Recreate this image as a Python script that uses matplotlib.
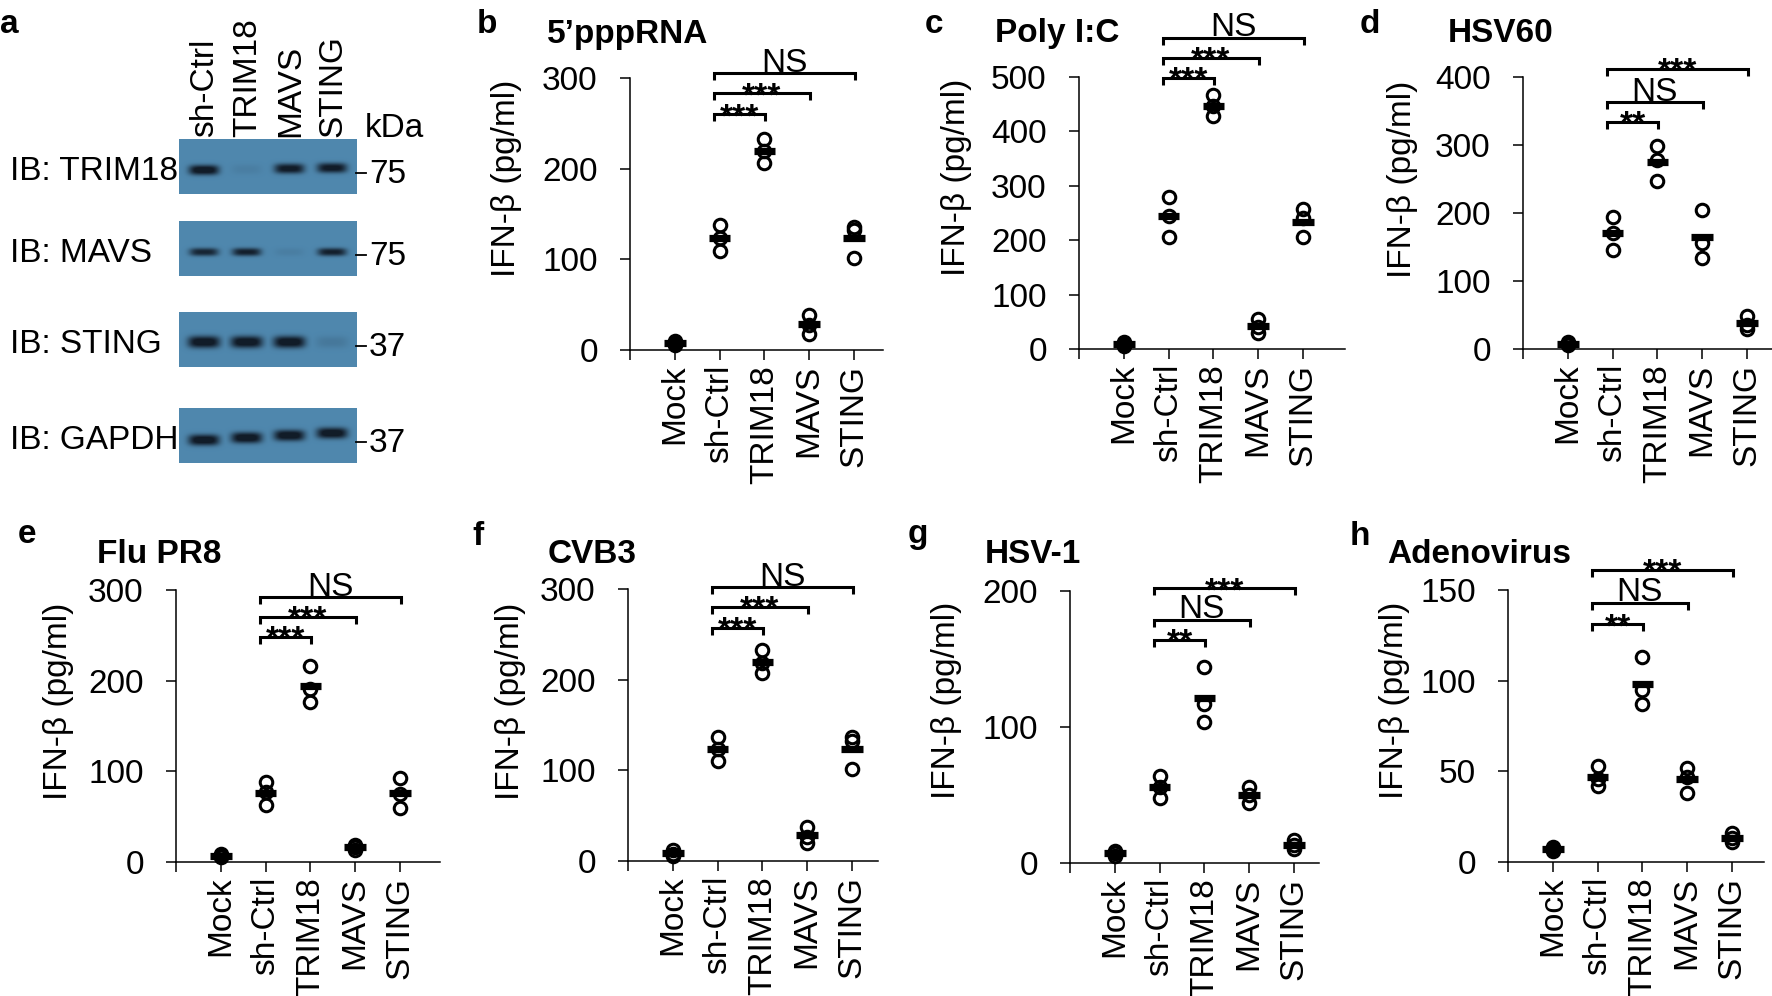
import numpy as np
import matplotlib
matplotlib.use('Agg')
import matplotlib.pyplot as plt

plt.rcParams['font.family'] = ['Liberation Sans', 'DejaVu Sans']

W, H = 1772, 996

# ---------------- data ----------------
categories = ['Mock', 'sh-Ctrl', 'TRIM18', 'MAVS', 'STING']

letters = ['b', 'c', 'd', 'e', 'f', 'g', 'h']
titles = ['5’pppRNA', 'Poly I:C', 'HSV60', 'Flu PR8', 'CVB3', 'HSV-1', 'Adenovirus']

vals_5ppp   = [[6, 8, 10], [109, 123, 138], [206, 219, 233], [18, 28, 39], [101, 132, 136]]
vals_polyic = [[6, 9, 12], [206, 245, 280], [428, 447, 466], [29, 41, 56], [206, 240, 257]]
vals_hsv60  = [[6, 8, 10], [146, 170, 194], [247, 278, 298], [134, 156, 204], [30, 36, 48]]
vals_flu    = [[5, 7, 9], [63, 77, 88], [177, 191, 216], [13, 16, 19], [60, 75, 93]]
vals_cvb3   = [[5, 8, 12], [110, 123, 137], [207, 218, 233], [20, 27, 38], [102, 132, 137]]
vals_hsv1   = [[5, 7, 9], [48, 56, 64], [104, 117, 144], [44, 50, 56], [10, 13, 17]]
vals_adeno  = [[6, 7, 8], [42, 46, 53], [87, 95, 113], [38, 47, 52], [11, 13, 16]]

yticks_5ppp   = [0, 100, 200, 300]
yticks_polyic = [0, 100, 200, 300, 400, 500]
yticks_hsv60  = [0, 100, 200, 300, 400]
yticks_flu    = [0, 100, 200, 300]
yticks_cvb3   = [0, 100, 200, 300]
yticks_hsv1   = [0, 100, 200]
yticks_adeno  = [0, 50, 100, 150]

# significance brackets: sh-Ctrl vs TRIM18, MAVS, STING
sig_5ppp   = ['***', '***', 'NS']
sig_polyic = ['***', '***', 'NS']
sig_hsv60  = ['**', 'NS', '***']
sig_flu    = ['***', '***', 'NS']
sig_cvb3   = ['***', '***', 'NS']
sig_hsv1   = ['**', 'NS', '***']
sig_adeno  = ['**', 'NS', '***']

brk_5ppp   = [260, 283, 305]
brk_polyic = [498, 535, 572]
brk_hsv60  = [334, 363, 412]
brk_flu    = [248, 270, 292]
brk_cvb3   = [257, 280, 302]
brk_hsv1   = [164, 179, 202]
brk_adeno  = [131, 143, 161]

# western blot
blot_lanes = ['sh-Ctrl', 'TRIM18', 'MAVS', 'STING']
blot_rows = ['IB: TRIM18', 'IB: MAVS', 'IB: STING', 'IB: GAPDH']
blot_kda = ['75', '75', '37', '37']
band_intensity = [[1.0, 0.07, 0.92, 0.92],
                  [0.80, 0.85, 0.07, 0.85],
                  [1.0, 1.0, 1.0, 0.12],
                  [1.0, 1.0, 1.0, 1.0]]

panels = [
    (vals_5ppp, yticks_5ppp, sig_5ppp, brk_5ppp),
    (vals_polyic, yticks_polyic, sig_polyic, brk_polyic),
    (vals_hsv60, yticks_hsv60, sig_hsv60, brk_hsv60),
    (vals_flu, yticks_flu, sig_flu, brk_flu),
    (vals_cvb3, yticks_cvb3, sig_cvb3, brk_cvb3),
    (vals_hsv1, yticks_hsv1, sig_hsv1, brk_hsv1),
    (vals_adeno, yticks_adeno, sig_adeno, brk_adeno),
]

# ---------------- layout (pixels) ----------------
boxes = [(630, 78, 883, 350), (1079, 77, 1345, 349), (1523, 77, 1772, 349),
         (176, 590, 440, 862), (628, 589, 878, 861), (1070, 591, 1319, 863),
         (1508, 590, 1764, 862)]
ylabel_pos = [(507, 178), (957, 177), (1402, 179), (59, 701), (510, 701), (947, 700), (1395, 700)]
title_pos = [(547, 43), (995, 42), (1448, 42), (97, 563), (548, 563), (985, 563), (1387, 563)]
letter_pos = [(477, 33), (925, 33), (1360, 33), (18, 543), (472, 545), (908, 543), (1350, 545)]
cat_dx = 44.8
FS = 24

fig = plt.figure(figsize=(W / 100, H / 100), dpi=100)
fig.patch.set_facecolor('white')


def fx(px):
    return px / W


def fy(py):
    return 1 - py / H


# ---------------- panel a: blot ----------------
ax_a = fig.add_axes([0, 0, 1, 1], zorder=0)
ax_a.patch.set_visible(False)
blot_left, blot_right = 179, 357
row_top = [139, 221, 312, 408]
row_h = 55
lane_x0, lane_dx = 204, 42.7
band_dy = [31, 31, 30, 32]
band_tilt = [-0.7, 0.0, 0.0, -2.3]
band_h = [10, 8, 12, 11]
band_w = [30, 29, 32, 31]
bg = np.array([0.31, 0.53, 0.68])
dark = np.array([0.07, 0.11, 0.16])
xs = blot_left + np.arange(blot_right - blot_left) + 0.5
for r in range(4):
    top = row_top[r]
    ys = top + np.arange(row_h) + 0.5
    X, Y = np.meshgrid(xs, ys)
    alpha = np.zeros_like(X)
    for li in range(4):
        xc = lane_x0 + li * lane_dx
        yc = top + band_dy[r] + band_tilt[r] * li
        a = band_intensity[r][li] * np.exp(-np.abs((X - xc) / (band_w[r] / 2)) ** 4) \
            * np.exp(-np.abs((Y - yc) / (band_h[r] / 2)) ** 2.5)
        alpha = np.maximum(alpha, a)
    alpha = np.clip(alpha * 1.15, 0, 1)
    img = bg * (1 - alpha[..., None]) + dark * alpha[..., None]
    ax_a.imshow(img, extent=(blot_left, blot_right, top + row_h, top),
                interpolation='bilinear', aspect='auto', zorder=1)
    yc_row = top + row_h / 2
    ax_a.text(10, yc_row + 13, blot_rows[r], fontsize=FS, ha='left', va='baseline')
    ax_a.plot([blot_right - 1, blot_right + 9], [yc_row + 6, yc_row + 6], color='k', lw=1.3)
    ax_a.text(blot_right + 12, yc_row + 16, blot_kda[r], fontsize=FS, ha='left', va='baseline')
for li, lab in enumerate(blot_lanes):
    ax_a.text(lane_x0 + li * lane_dx + 1, 137, lab, fontsize=FS, rotation=90,
              ha='center', va='bottom')
ax_a.text(365, 137, 'kDa', fontsize=FS, ha='left', va='baseline')
ax_a.text(0, 33, 'a', fontsize=FS, fontweight='bold', ha='left', va='baseline')
ax_a.set_xlim(0, W)
ax_a.set_ylim(H, 0)
ax_a.axis('off')

# ---------------- scatter panels ----------------
xcat = np.arange(1, len(categories) + 1)
for i, (vals, yt, sig, brk) in enumerate(panels):
    l, t, r, b = boxes[i]
    ax = fig.add_axes([fx(l), fy(b), (r - l) / W, (b - t) / H], zorder=2)
    ax.patch.set_visible(False)
    ymax = yt[-1]
    ax.set_xlim(0, (r - l) / cat_dx)
    ax.set_ylim(0, ymax)
    for k, v in enumerate(vals):
        ax.plot([xcat[k]] * len(v), v, 'o', ms=9, mfc='none', mec='k', mew=2.2,
                clip_on=False, zorder=3)
        m = np.mean(v)
        ax.plot([xcat[k] - 0.24, xcat[k] + 0.24], [m, m], color='k', lw=5.2,
                solid_capstyle='butt', clip_on=False, zorder=4)
    # brackets
    leg = 7 * ymax / (b - t)
    for j, (lab, yb) in enumerate(zip(sig, brk)):
        xl = 2 - 0.13
        xr = 3 + j + 0.02
        ax.plot([xl, xl, xr, xr], [yb - leg, yb, yb, yb - leg], color='k', lw=2.2,
                clip_on=False, solid_joinstyle='miter', solid_capstyle='butt')
        if lab == 'NS':
            ax.annotate(lab, xy=((xl + xr) / 2, yb), xytext=(0, 1), textcoords='offset points',
                        ha='center', va='baseline', fontsize=FS, annotation_clip=False)
        else:
            ax.annotate(lab, xy=((xl + xr) / 2, yb), xytext=(0, -8.5), textcoords='offset points',
                        ha='center', va='baseline', fontsize=FS, fontweight='bold',
                        annotation_clip=False)
    ax.set_yticks(yt)
    ax.set_yticklabels([str(v) for v in yt])
    ax.set_xticks(range(len(categories) + 1))
    ax.set_xticklabels([''] + categories, rotation=90)
    ax.tick_params(axis='both', direction='out', length=7.2, width=1.1, labelsize=FS)
    ax.tick_params(axis='y', pad=16)
    ax.tick_params(axis='x', pad=3.5)
    for s in ['top', 'right']:
        ax.spines[s].set_visible(False)
    for s in ['left', 'bottom']:
        ax.spines[s].set_linewidth(1.1)
    yx, yy = ylabel_pos[i]
    fig.text(fx(yx), fy(yy), 'IFN-β (pg/ml)', rotation=90, ha='center', va='center', fontsize=FS)
    tx, ty = title_pos[i]
    fig.text(fx(tx), fy(ty), titles[i], fontsize=FS, fontweight='bold', ha='left', va='baseline')
    lx, ly = letter_pos[i]
    fig.text(fx(lx), fy(ly), letters[i], fontsize=FS, fontweight='bold', ha='left', va='baseline')

fig.savefig('out.png', dpi=100, facecolor='white')
